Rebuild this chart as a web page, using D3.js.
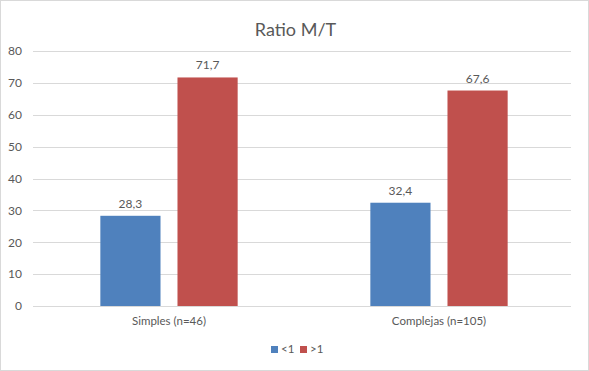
<!DOCTYPE html>
<html>
<head>
<meta charset="utf-8">
<script src="https://cdn.jsdelivr.net/npm/d3@7"></script>
<style>
  body { margin: 0; background: #fff; }
  text { font-family: Lato, "Open Sans", sans-serif; fill: #595959; }
</style>
</head>
<body>
<div id="chart"></div>
<script>
// Data
const categories = ["Simples (n=46)", "Complejas (n=105)"];
const seriesNames = ["<1", ">1"];
const lessThanOne = [28.3, 32.4];
const moreThanOne = [71.7, 67.6];
const yTicks = [0, 10, 20, 30, 40, 50, 60, 70, 80];

const width = 589;
const height = 371;
const margin = { top: 51, right: 18, bottom: 65, left: 33 };

const svg = d3.select("#chart")
    .append("svg")
    .attr("width", width)
    .attr("height", height);

// Outer border
svg.append("rect")
    .attr("x", 0.5).attr("y", 0.5)
    .attr("width", width - 1).attr("height", height - 1)
    .attr("fill", "#fff")
    .attr("stroke", "#d9d9d9");

const xScale = d3.scaleBand()
    .domain(categories)
    .range([margin.left + 1, width - margin.right + 3]);

const xInner = d3.scaleBand()
    .domain(seriesNames)
    .range([0, xScale.bandwidth()])
    .paddingInner(0.22)
    .paddingOuter(0.86);

const yScale = d3.scaleLinear()
    .domain([0, 80])
    .range([height - margin.bottom, margin.top]);

const colorScale = d3.scaleOrdinal()
    .domain(seriesNames)
    .range(["#4f81bd", "#c0504d"]);

// Gridlines
svg.append("g")
    .selectAll("line")
    .data(yTicks)
    .enter()
    .append("line")
    .attr("x1", margin.left)
    .attr("x2", width - margin.right)
    .attr("y1", d => Math.round(yScale(d)) + 0.5)
    .attr("y2", d => Math.round(yScale(d)) + 0.5)
    .attr("stroke", "#d9d9d9")
    .attr("stroke-width", 1);

// Y axis labels
const yAxis = d3.axisLeft(yScale)
    .tickValues(yTicks)
    .tickSize(0)
    .tickPadding(11);
const yG = svg.append("g")
    .attr("transform", `translate(${margin.left},0)`)
    .call(yAxis);
yG.select(".domain").remove();
yG.selectAll("text")
    .style("font-size", "12px")
    .style("font-family", "Lato, 'Open Sans', sans-serif")
    .attr("fill", "#595959");

// Bars
const rows = categories.map((c, i) => ({
    category: c,
    values: [
        { name: seriesNames[0], value: lessThanOne[i] },
        { name: seriesNames[1], value: moreThanOne[i] }
    ]
}));

const groups = svg.selectAll(".group")
    .data(rows)
    .enter()
    .append("g")
    .attr("class", "group")
    .attr("transform", d => `translate(${xScale(d.category)},0)`);

groups.selectAll("rect")
    .data(d => d.values)
    .enter()
    .append("rect")
    .attr("x", d => xInner(d.name))
    .attr("y", d => yScale(d.value))
    .attr("width", xInner.bandwidth())
    .attr("height", d => yScale(0) - yScale(d.value))
    .attr("fill", d => colorScale(d.name));

// Data labels
groups.selectAll(".label")
    .data(d => d.values)
    .enter()
    .append("text")
    .attr("class", "label")
    .attr("x", d => xInner(d.name) + xInner.bandwidth() / 2)
    .attr("y", d => yScale(d.value) - 8)
    .style("text-anchor", "middle")
    .style("font-size", "12px")
    .text(d => d3.format(".1f")(d.value).replace(".", ","));

// X axis labels
const xAxis = d3.axisBottom(xScale).tickSize(0).tickPadding(11);
const xG = svg.append("g")
    .attr("transform", `translate(0,${height - margin.bottom})`)
    .call(xAxis);
xG.select(".domain").remove();
xG.selectAll("text")
    .style("font-size", "11.5px")
    .style("font-family", "Lato, 'Open Sans', sans-serif")
    .attr("fill", "#595959");

// Title
svg.append("text")
    .attr("x", width / 2 + 1)
    .attr("y", 36)
    .style("text-anchor", "middle")
    .style("font-size", "18px")
    .text("Ratio M/T");

// Legend
const legend = svg.append("g")
    .attr("transform", `translate(271, 350)`);

const legendItems = legend.selectAll(".legendItem")
    .data(seriesNames)
    .enter().append("g")
    .attr("class", "legendItem")
    .attr("transform", (d, i) => `translate(${i * 29}, 0)`);

legendItems.append("rect")
    .attr("x", 0)
    .attr("y", -4)
    .attr("width", 7)
    .attr("height", 7)
    .style("fill", d => colorScale(d));

legendItems.append("text")
    .attr("x", 10)
    .attr("y", 0)
    .style("dominant-baseline", "middle")
    .style("font-size", "11.5px")
    .text(d => d);
</script>
</body>
</html>
